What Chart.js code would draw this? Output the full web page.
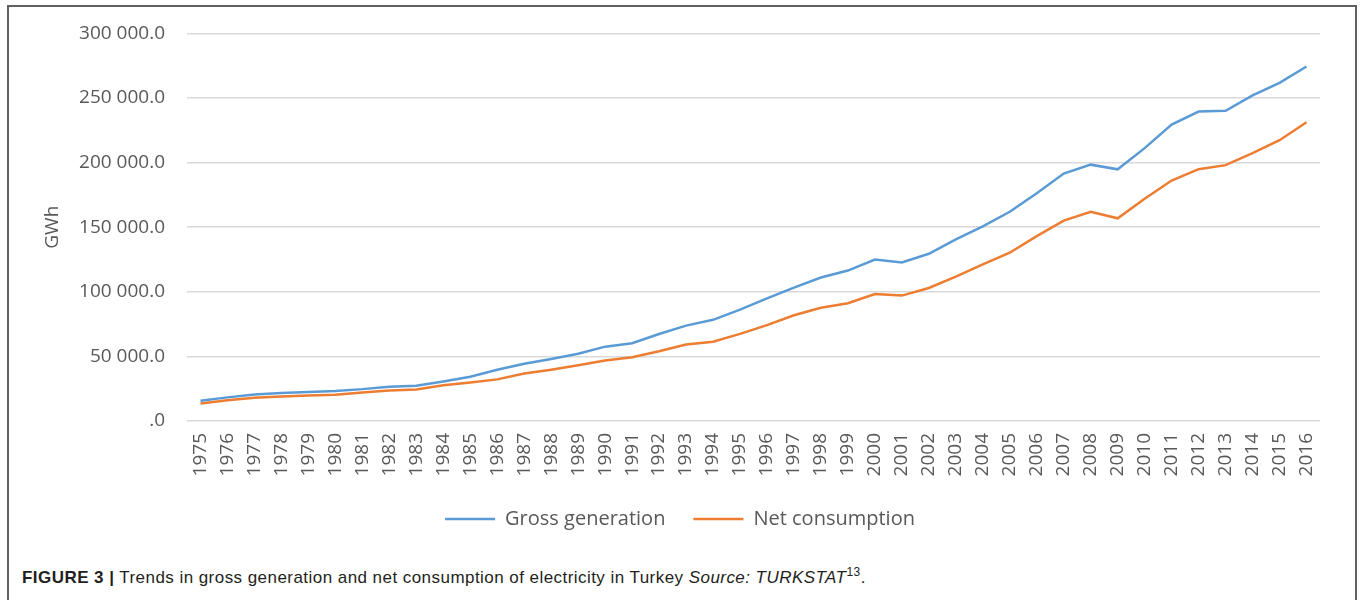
<!DOCTYPE html>
<html>
<head>
<meta charset="utf-8">
<script src="https://cdn.jsdelivr.net/npm/chart.js@4.4.1/dist/chart.umd.min.js"></script>
<style>
  html, body { margin: 0; padding: 0; background: #ffffff; }
  body { width: 1360px; height: 600px; position: relative; overflow: hidden; }
  #frame {
    position: absolute; left: 7px; top: 5px; width: 1346px; height: 620px;
    border-left: 2px solid #606060; border-top: 2px solid #606060; border-right: 2px solid #606060;
  }
  #wrap { position: absolute; left: 0; top: 0; width: 1360px; height: 550px; }
  #caption {
    position: absolute; left: 22px; top: 568px; white-space: nowrap;
    font-family: "Liberation Sans Narrow", "Liberation Sans", Arial, sans-serif;
    font-size: 17px; letter-spacing: 0.45px; color: #231f20;
  }
  #caption b { font-weight: bold; }
  #caption sup { font-size: 12px; vertical-align: 7px; line-height: 0; }
</style>
</head>
<body>
<div id="frame"></div>
<div id="wrap"><canvas id="chart" width="1360" height="550"></canvas></div>
<div id="caption"><b>FIGURE 3 |</b> Trends in gross generation and net consumption of electricity in Turkey <i>Source: TURKSTAT</i><sup>13</sup>.</div>
<script>
// Annual electricity figures, GWh
const years = [
  '1975','1976','1977','1978','1979','1980','1981','1982','1983','1984',
  '1985','1986','1987','1988','1989','1990','1991','1992','1993','1994',
  '1995','1996','1997','1998','1999','2000','2001','2002','2003','2004',
  '2005','2006','2007','2008','2009','2010','2011','2012','2013','2014',
  '2015','2016'
];
const grossGeneration = [
  15623, 18283, 20565, 21726, 22522, 23275, 24673, 26552, 27347, 30614,
  34219, 39695, 44353, 48049, 52043, 57543, 60246, 67342, 73808, 78322,
  86247, 94862, 103296, 111022, 116440, 124922, 122725, 129400, 140581, 150698,
  161956, 176300, 191558, 198418, 194813, 211208, 229395, 239497, 240154, 251963,
  261783, 274408
];
const netConsumption = [
  13492, 16079, 17975, 18887, 19689, 20398, 22030, 23587, 24465, 27635,
  29709, 32210, 36697, 39722, 43120, 46820, 49283, 53985, 59237, 61401,
  67394, 74157, 81885, 87705, 91202, 98296, 97070, 102948, 111766, 121142,
  130263, 143071, 155135, 161948, 156894, 172051, 186100, 194923, 198045, 207375,
  217312, 231204
];
const seriesNames = ['Gross generation', 'Net consumption'];
const axisTitle = 'GWh';

const textColor = '#595959';
const tickFont = { family: 'Open Sans', size: 19 };

// "300 000.0" style labels, zero shown as ".0"
function formatTick(v) {
  if (v === 0) return '.0';
  return String(Math.round(v)).replace(/\B(?=(\d{3})+(?!\d))/g, ' ') + '.0';
}

new Chart(document.getElementById('chart'), {
  type: 'line',
  data: {
    labels: years,
    datasets: [
      {
        label: seriesNames[0],
        data: grossGeneration,
        borderColor: '#5B9BD5',
        backgroundColor: '#5B9BD5',
        borderWidth: 2.5,
        pointRadius: 0,
        tension: 0
      },
      {
        label: seriesNames[1],
        data: netConsumption,
        borderColor: '#ED7D31',
        backgroundColor: '#ED7D31',
        borderWidth: 2.5,
        pointRadius: 0,
        tension: 0
      }
    ]
  },
  options: {
    responsive: false,
    animation: false,
    layout: { padding: { left: 0, right: 0, top: 33, bottom: 11 } },
    plugins: {
      tooltip: { enabled: false },
      legend: {
        position: 'bottom',
        labels: {
          color: textColor,
          font: { family: 'Open Sans', size: 20 },
          usePointStyle: true,
          pointStyle: 'line',
          pointStyleWidth: 50,
          padding: 28
        }
      }
    },
    scales: {
      x: {
        offset: true,
        grid: { display: false },
        border: { display: false },
        ticks: {
          color: textColor,
          font: tickFont,
          minRotation: 90,
          maxRotation: 90,
          autoSkip: false,
          padding: 4
        },
        afterFit: (scale) => { scale.height = 60; }
      },
      y: {
        min: 0,
        max: 300000,
        border: { display: false },
        grid: { color: '#d9d9d9', lineWidth: 1.5, drawTicks: false },
        ticks: {
          stepSize: 50000,
          color: textColor,
          font: tickFont,
          padding: 22,
          callback: (v) => formatTick(v)
        },
        title: {
          display: true,
          text: axisTitle,
          color: textColor,
          font: { family: 'Open Sans', size: 19 },
          padding: { top: 41, bottom: 0 }
        },
        afterFit: (scale) => { scale.width = 187; }
      },
      // empty right-hand margin box so the plot stops short of the frame
      // while the legend stays centred on the full width
      margin: {
        position: 'right',
        display: true,
        grid: { display: false },
        border: { display: false },
        ticks: { display: false },
        afterFit: (scale) => { scale.width = 40; }
      }
    }
  }
});
</script>
</body>
</html>
